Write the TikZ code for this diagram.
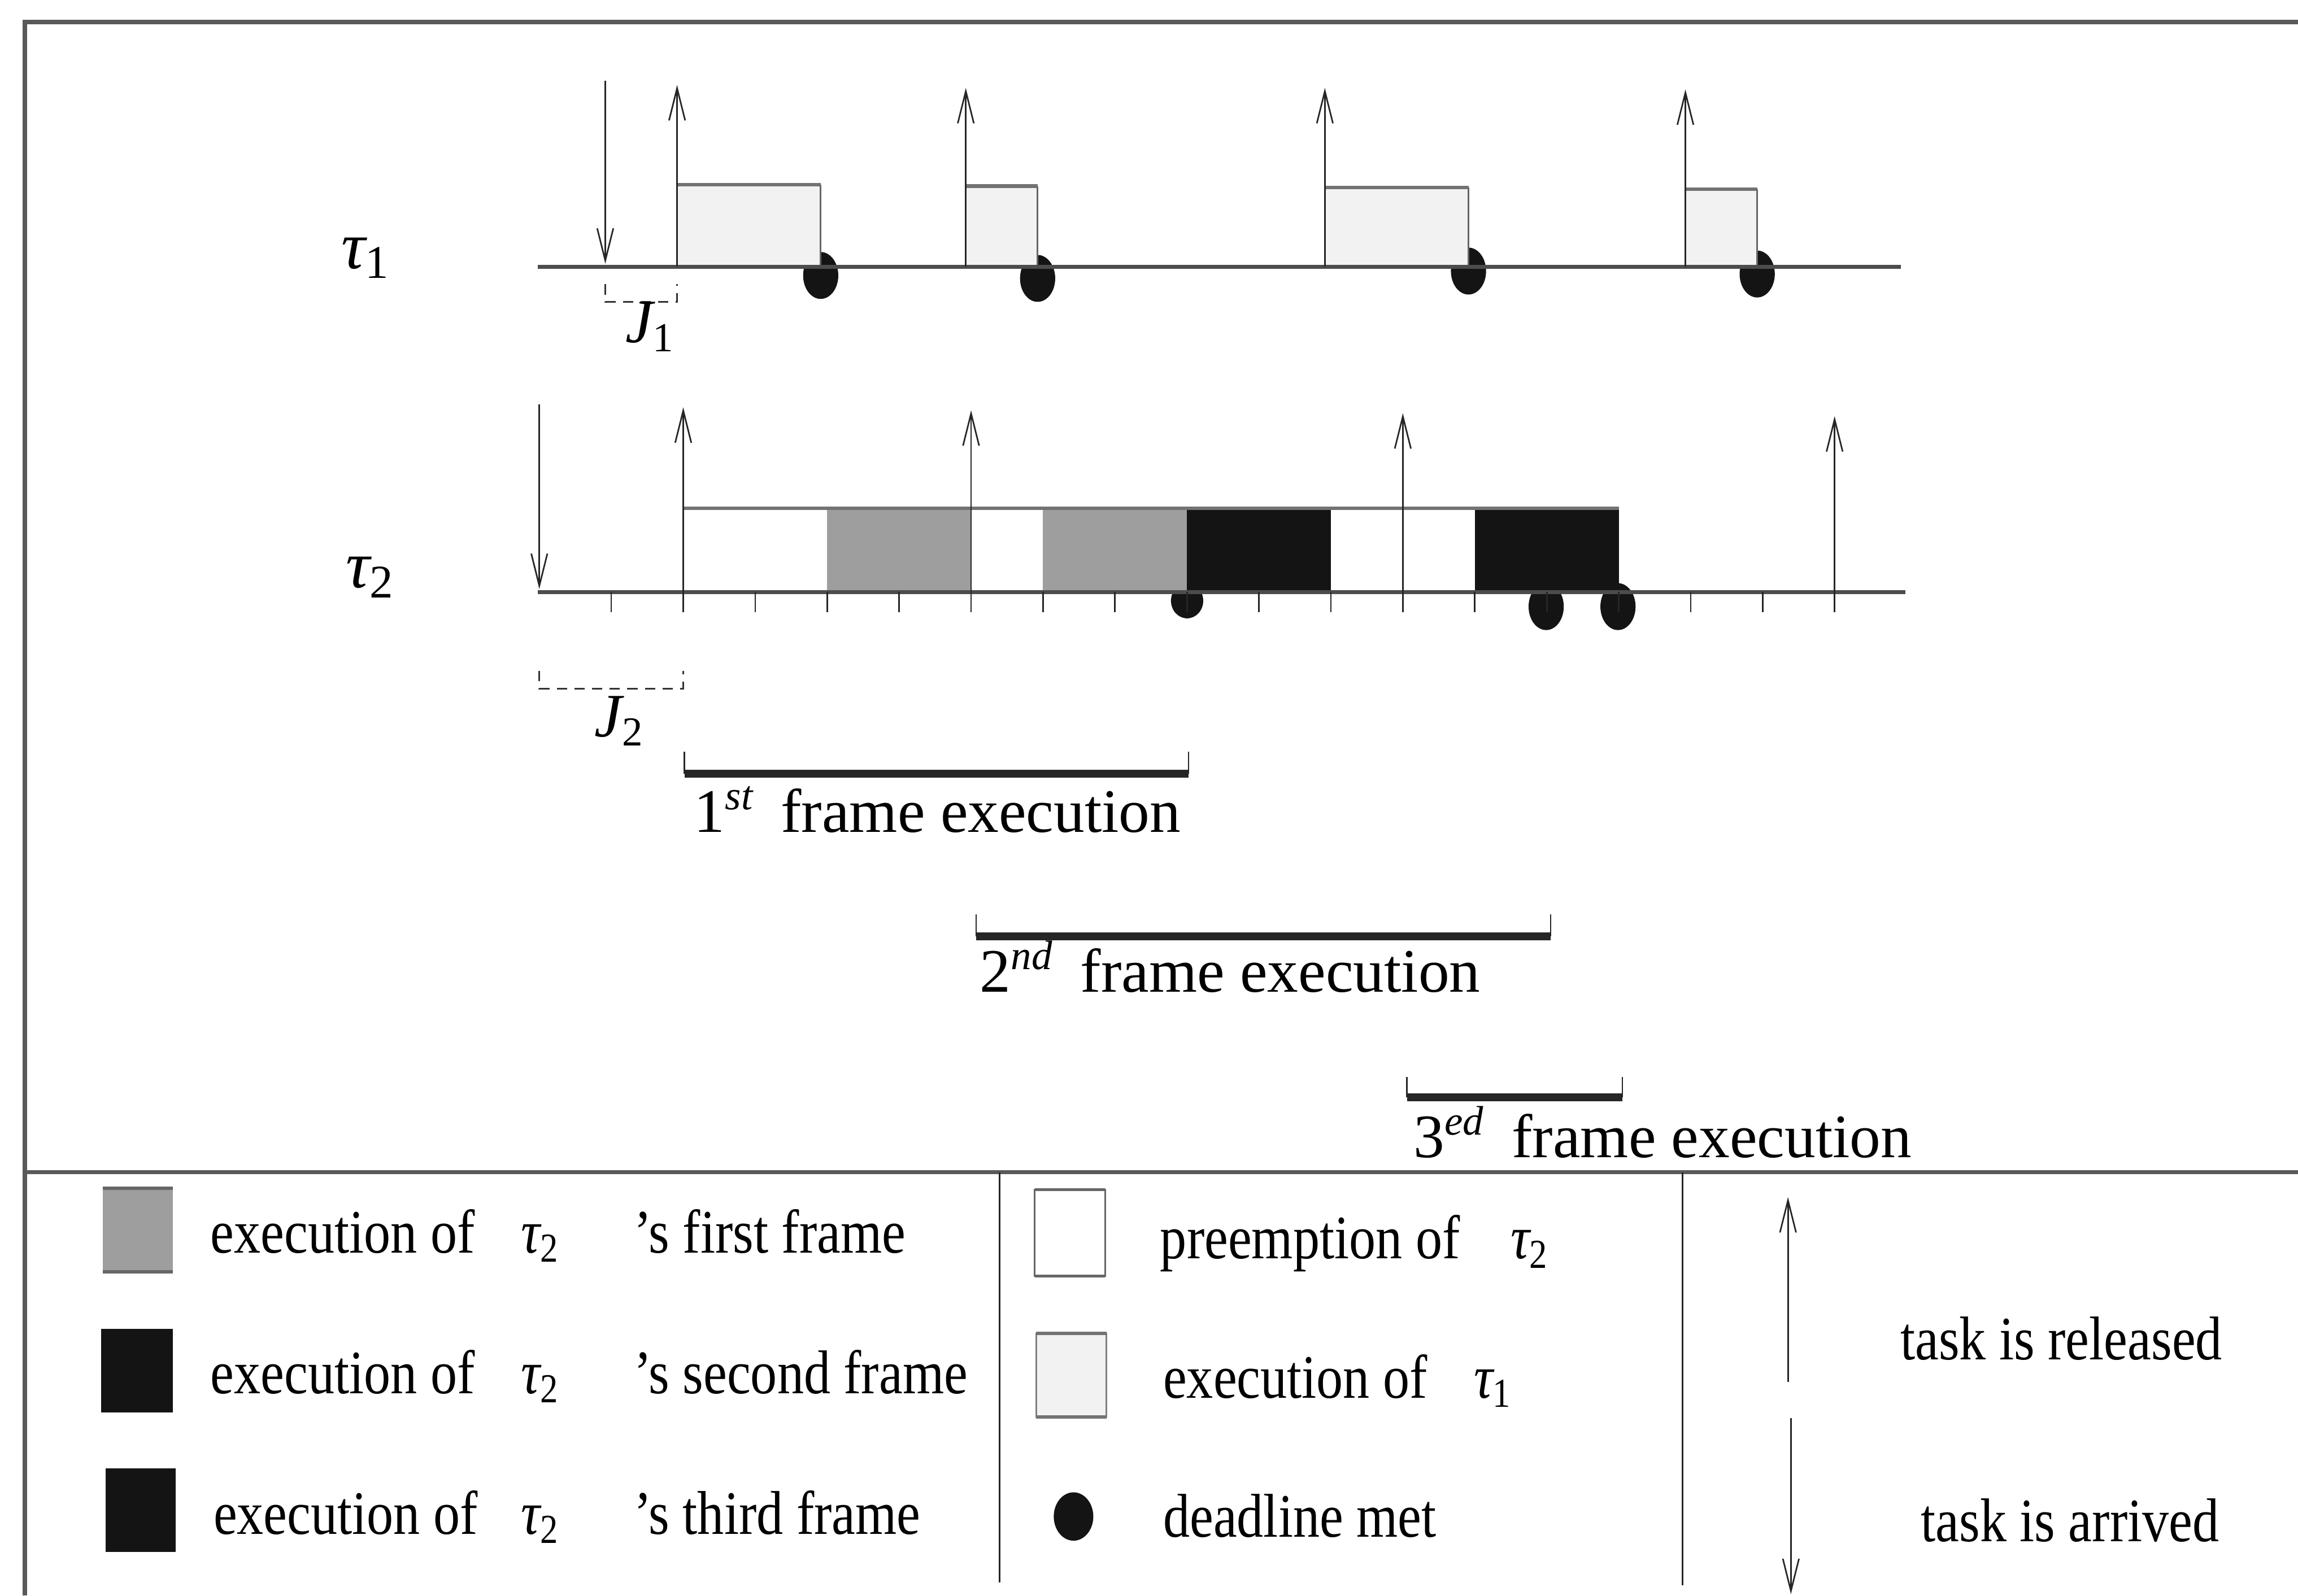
\documentclass[tikz,border=0pt]{standalone}
\usepackage{fontspec}
\setmainfont{Liberation Serif}
\usetikzlibrary{arrows.meta}
\newcommand\sqz[1]{\scalebox{0.86}[1]{#1}}
\newcommand\tauu[1]{{\itshape τ}\textsubscript{#1}}
\begin{document}
\begin{tikzpicture}[x=0.1mm,y=-0.1mm,
  every node/.style={font=\fontsize{12}{14}\selectfont, inner sep=0pt},
  hair/.style={line width=0.3pt, black!85},
  axisline/.style={line width=0.75pt, black!70},
  border/.style={line width=0.8pt, black!65},
  rel/.style={line width=0.3pt, black!85, -{Straight Barb[length=2.2mm,width=1.1mm]}},
  tonebox/.style={fill=black!5},
  greybox/.style={fill=black!38},
  blackbox/.style={fill=black!92},
  dline/.style={fill=black!92},
  framebar/.style={line width=1.5pt, black!85},
  jit/.style={line width=0.3pt, black!80, dash pattern=on 0.7mm off 0.5mm},
  lbl/.style={anchor=base west},
]
\useasboundingbox (0,0) rectangle (1568,1089);

% ---------- outer frame and legend grid ----------
\draw[border] (17,1089) -- (17,15) -- (1568,15);
\draw[border] (17,800) -- (1568,800);
\draw[hair] (682,800) -- (682,1080);
\draw[hair] (1148,800) -- (1148,1082);

% ---------- task tau1 ----------
\node (t1) at (250,176) {\fontsize{13}{15}\selectfont\tauu{1}};
% deadline dots (under the boxes)
\foreach \x/\y [count=\i] in {560/188, 708/190, 1002/185, 1199/187}
  \fill[dline] (\x,\y) ellipse [x radius=12, y radius=16];
% executions of tau1
\foreach \a/\b/\t in {462/560/126, 659/708/127, 904/1002/128, 1150/1199/129}{
  \fill[tonebox] (\a,\t) rectangle (\b,182);
  \draw[hair, black!60] (\b,\t) -- (\b,182);
  \draw[line width=0.7pt, black!55] (\a,\t) -- (\b,\t);
}
\draw[axisline] (367,182) -- (1297,182);
% arrival arrow
\coordinate (a1s) at (413,55);
\coordinate (a1e) at (413,180);
\draw[rel] (a1s) -- (a1e);
% release arrows
\foreach \x/\tp [count=\i] in {462/58, 659/60, 904/60, 1150/61}{
  \coordinate (r1b\i) at (\x,182);
  \coordinate (r1t\i) at (\x,\tp);
  \draw[rel] (r1b\i) -- (r1t\i);
}
% jitter J1
\coordinate (j1a) at (413,194);
\coordinate (j1b) at (462,194);
\draw[jit] (j1a) -- ++(0,12) -| (j1b);
\node (J1) at (444,223) {\itshape J\textsubscript{\upshape 1}};

% ---------- task tau2 ----------
\node (t2) at (253,394) {\fontsize{13}{15}\selectfont\tauu{2}};
% deadline dots
\fill[dline] (810,410) ellipse [x radius=11, y radius=12];
\fill[dline] (1055,414) ellipse [x radius=12, y radius=16];
\fill[dline] (1104,414) ellipse [x radius=12, y radius=16];
% boxes
\fill[white]     (466,347) rectangle (564.4,404);
\fill[greybox]   (564.4,347) rectangle (662.6,404);
\fill[white]     (662.6,347) rectangle (711.7,404);
\fill[greybox]   (711.7,347) rectangle (809.9,404);
\fill[blackbox]  (809.9,347) rectangle (908.1,404);
\fill[white]     (908.1,347) rectangle (1006.3,404);
\fill[blackbox]  (1006.3,347) rectangle (1104.5,404);
\draw[line width=0.7pt, black!55] (466,347) -- (1104.5,347);
\draw[axisline] (367,404) -- (1300,404);
% ticks
\foreach \j in {1,...,18}
  \draw[hair] ({368+49.1*\j},404) -- ++(0,14);
% arrival arrow
\coordinate (a2s) at (368,276);
\coordinate (a2e) at (368,402);
\draw[rel] (a2s) -- (a2e);
% release arrows
\foreach \x/\tp [count=\i] in {466.2/278, 662.6/280, 957.2/282, 1251.8/284}{
  \coordinate (r2b\i) at (\x,418);
  \coordinate (r2t\i) at (\x,\tp);
  \draw[rel] (r2b\i) -- (r2t\i);
}
% jitter J2
\coordinate (j2a) at (368,458);
\coordinate (j2b) at (466.2,458);
\draw[jit] (j2a) -- ++(0,12) -| (j2b);
\node (J2) at (423,492) {\itshape J\textsubscript{\upshape 2}};

% ---------- frame executions ----------
\coordinate (f1a) at (467,528);
\coordinate (f1b) at (811,528);
\draw[framebar] (f1a) -- (f1b);
\draw[hair] (f1a) -- ++(0,-15);
\draw[hair] (f1b) -- ++(0,-15);
\node[lbl] (f1) at (473,568) {1\textsuperscript{\itshape st}\hspace{5pt}frame execution};

\coordinate (f2a) at (666,639);
\coordinate (f2b) at (1058,639);
\draw[framebar] (f2a) -- (f2b);
\draw[hair] (f2a) -- ++(0,-15);
\draw[hair] (f2b) -- ++(0,-15);
\node[lbl] (f2) at (668,677) {2\textsuperscript{\itshape nd}\hspace{5pt}frame execution};

\coordinate (f3a) at (960,749);
\coordinate (f3b) at (1107,749);
\draw[framebar] (f3a) -- (f3b);
\draw[hair] (f3a) -- ++(0,-14);
\draw[hair] (f3b) -- ++(0,-14);
\node[lbl] (f3) at (964,790) {3\textsuperscript{\itshape ed}\hspace{5pt}frame execution};

% ---------- legend, column 1 ----------
\fill[greybox] (70,811) rectangle (118,868);
\draw[line width=0.6pt, black!60] (70,811) -- (118,811) (70,868) -- (118,868);
\fill[blackbox] (69,907) rectangle (118,964);
\fill[blackbox] (72,1002) rectangle (120,1059);

\node[lbl] (l1a) at (143,855) {\sqz{execution of}};
\node[lbl] (l1b) at (355,855) {\sqz{\tauu{2}}};
\node[lbl] (l1c) at (432,855) {\sqz{’s first frame}};
\node[lbl] (l2a) at (143,951) {\sqz{execution of}};
\node[lbl] (l2b) at (355,951) {\sqz{\tauu{2}}};
\node[lbl] (l2c) at (432,951) {\sqz{’s second frame}};
\node[lbl] (l3a) at (145,1047) {\sqz{execution of}};
\node[lbl] (l3b) at (355,1047) {\sqz{\tauu{2}}};
\node[lbl] (l3c) at (432,1047) {\sqz{’s third frame}};

% ---------- legend, column 2 ----------
\draw[hair, black!60, fill=white] (706,812) rectangle (754,871);
\draw[line width=0.6pt, black!60] (706,812) -- (754,812) (706,871) -- (754,871);
\draw[hair, black!50, fill=black!5] (707,910) rectangle (755,967);
\draw[line width=0.6pt, black!55] (707,910) -- (755,910) (707,967) -- (755,967);
\fill[dline] (732.5,1035) ellipse [x radius=13.5, y radius=16.5];

\node[lbl] (m1a) at (791,859) {\sqz{preemption of}};
\node[lbl] (m1b) at (1030,859) {\sqz{\tauu{2}}};
\node[lbl] (m2a) at (793,954) {\sqz{execution of}};
\node[lbl] (m2b) at (1005,954) {\sqz{\tauu{1}}};
\node[lbl] (m3a) at (793,1049) {\sqz{deadline met}};

% ---------- legend, column 3 ----------
\coordinate (kr1) at (1220,943);
\coordinate (kr2) at (1220,817);
\draw[rel] (kr1) -- (kr2);
\coordinate (ka1) at (1222,968);
\coordinate (ka2) at (1222,1088);
\draw[rel] (ka1) -- (ka2);
\node[lbl] (r1) at (1296,928) {\sqz{task is released}};
\node[lbl] (r2) at (1310,1052) {\sqz{task is arrived}};
\end{tikzpicture}
\end{document}
